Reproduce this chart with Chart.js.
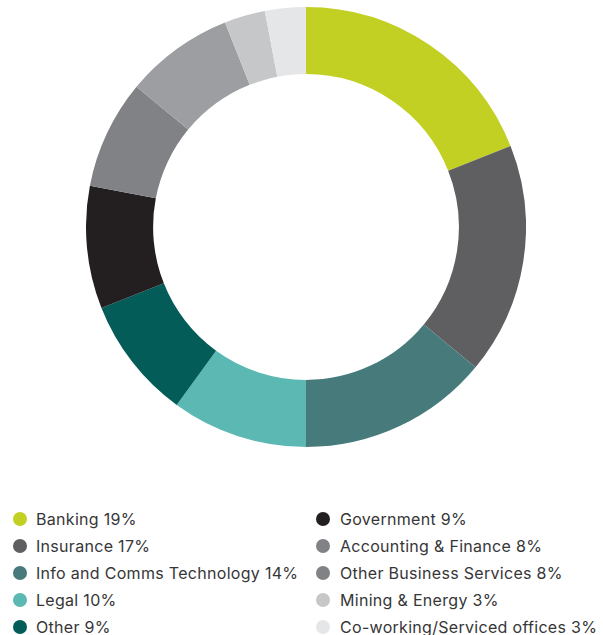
<!DOCTYPE html>
<html>
<head>
<meta charset="utf-8">
<script src="https://cdn.jsdelivr.net/npm/chart.js@4"></script>
<style>
  html, body { margin: 0; padding: 0; background: #ffffff; overflow: hidden; }
  body { width: 603px; height: 635px; position: relative; font-family: Inter, "Open Sans", sans-serif; }
  #wrap { position: absolute; left: 86px; top: 7px; width: 440px; height: 440px; }
  .leg { position: absolute; font-size: 16px; color: #363638; white-space: nowrap; line-height: 18px; letter-spacing: 0.3px; }
  .dot { position: absolute; width: 14px; height: 14px; border-radius: 50%; }
</style>
</head>
<body>
<div id="wrap"><canvas id="c" width="440" height="440"></canvas></div>
<div id="legend"></div>
<script>
const categories = ["Banking", "Insurance", "Info and Comms Technology", "Legal", "Other",
  "Government", "Accounting & Finance", "Other Business Services", "Mining & Energy", "Co-working/Serviced offices"];
const shares = [19, 17, 14, 10, 9, 9, 8, 8, 3, 3];
const sliceColors = ["#c2d023", "#5f5f61", "#477a7b", "#5cb8b2", "#035c58",
  "#231f20", "#808285", "#9d9ea1", "#c6c7c9", "#e5e6e8"];
const legendColors = ["#c2d023", "#5f5f61", "#477a7b", "#5cb8b2", "#035c58",
  "#231f20", "#808285", "#808285", "#c6c7c9", "#e5e6e8"];

new Chart(document.getElementById("c"), {
  type: "doughnut",
  data: {
    labels: categories,
    datasets: [{
      data: shares,
      backgroundColor: sliceColors,
      borderWidth: 0
    }]
  },
  options: {
    responsive: false,
    animation: false,
    cutout: "69.5%",
    layout: { padding: 0 },
    plugins: { legend: { display: false }, tooltip: { enabled: false } }
  }
});

const legend = document.getElementById("legend");
const rowY = [518.5, 545.5, 572.5, 599.5, 626.5];
categories.forEach((name, i) => {
  const col = Math.floor(i / 5), row = i % 5;
  const dotX = col === 0 ? 20 : 323;
  const textX = col === 0 ? 36 : 340;
  const d = document.createElement("div");
  d.className = "dot";
  d.style.left = (dotX - 7) + "px";
  d.style.top = (rowY[row] - 7) + "px";
  d.style.background = legendColors[i];
  legend.appendChild(d);
  const t = document.createElement("div");
  t.className = "leg";
  t.style.left = textX + "px";
  t.style.top = (rowY[row] - 9) + "px";
  t.textContent = name + " " + shares[i] + "%";
  legend.appendChild(t);
});
</script>
</body>
</html>
